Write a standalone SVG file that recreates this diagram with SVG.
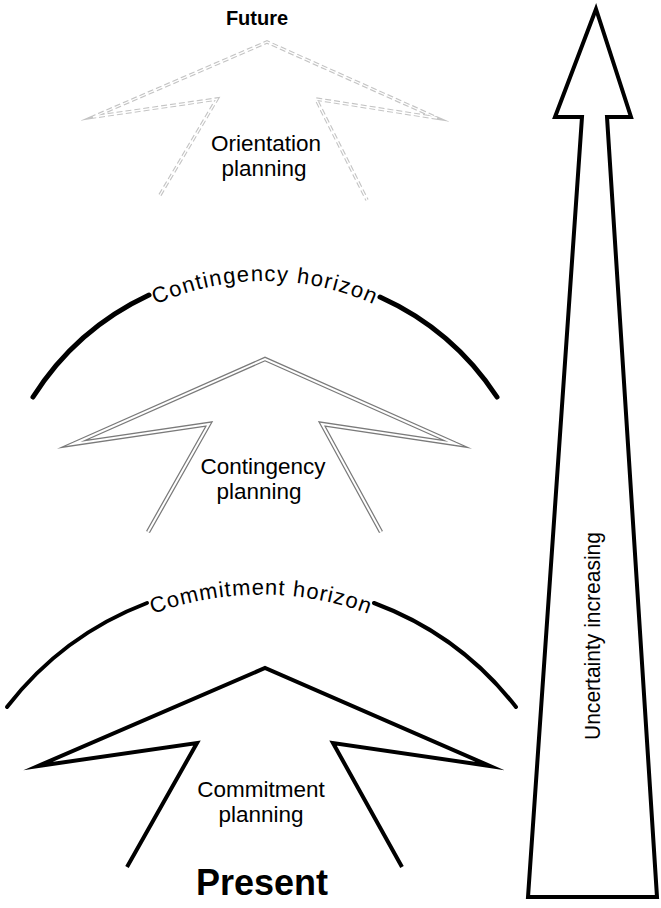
<svg xmlns="http://www.w3.org/2000/svg" width="661" height="908" viewBox="0 0 661 908">
<style>
text{font-family:"Liberation Sans",Arial,sans-serif;fill:#000}
.lbl{font-size:22.5px;text-anchor:middle}
.big{font-weight:bold;text-anchor:middle}
.hz{font-size:22px}
.arc{fill:none;stroke:#000;stroke-linecap:round}
.cm{fill:none;stroke:#000;stroke-width:4;stroke-linejoin:miter;stroke-miterlimit:10}
.ctO{fill:none;stroke:#7a7a7a;stroke-width:4.5;stroke-linejoin:miter;stroke-miterlimit:10}
.ctI{fill:none;stroke:#fff;stroke-width:2;stroke-linejoin:miter;stroke-miterlimit:10}
.orO{fill:none;stroke:#c4c4c4;stroke-width:3.5;stroke-dasharray:6 3;stroke-linejoin:miter;stroke-miterlimit:10}
.orI{fill:none;stroke:#fff;stroke-width:1.3}
</style>
<defs>
<path id="pCont" d="M 1 545 A 264 264 0 0 1 529 545"/>
<path id="pComm" d="M -49 904.5 A 310 310 0 0 1 571 904.5"/>
</defs>

<g id="future"><text class="big" x="257" y="25" font-size="20">Future</text></g>

<g id="orientation-planning">
<polyline class="orO" points="160,195 217,99 93,117 267,42 437,118 316,99 367,200"/>
<polyline class="orI" points="160,195 217,99 93,117 267,42 437,118 316,99 367,200"/>
<text class="lbl" x="266" y="151" font-size="23.5">Orientation</text>
<text class="lbl" x="264" y="176" font-size="23.5">planning</text>
</g>

<g id="contingency-horizon">
<path class="arc" stroke-width="5" d="M 33 397 A 275 275 0 0 1 149 295"/>
<path class="arc" stroke-width="5" d="M 380 297 A 275 275 0 0 1 497 397"/>
<text class="hz" letter-spacing="1.3"><textPath href="#pCont" startOffset="50%" text-anchor="middle">Contingency horizon</textPath></text>
</g>

<g id="contingency-planning">
<polyline class="ctO" points="148,532 209,424 73,444 265,359 456,444 322,424 381,532"/>
<polyline class="ctI" points="148,532 209,424 73,444 265,359 456,444 322,424 381,532"/>
<text class="lbl" x="263" y="474">Contingency</text>
<text class="lbl" x="259" y="499">planning</text>
</g>

<g id="commitment-horizon">
<path class="arc" stroke-width="4" d="M 7 707 A 322 322 0 0 1 147 603"/>
<path class="arc" stroke-width="4" d="M 374 603 A 322 322 0 0 1 516 707"/>
<text class="hz" letter-spacing="1"><textPath href="#pComm" startOffset="50%" text-anchor="middle">Commitment horizon</textPath></text>
</g>

<g id="commitment-planning">
<polyline class="cm" points="127,867 197,743 38,766 265,668 490,766 333,743 402,867"/>
<text class="lbl" x="261" y="797">Commitment</text>
<text class="lbl" x="261" y="822">planning</text>
</g>

<g id="present"><text class="big" x="262" y="895" font-size="36">Present</text></g>

<g id="uncertainty-arrow">
<polygon points="596,9 631,117 607,117 657,897 528,897 582,117 555,117" fill="#fff" stroke="#000" stroke-width="4" stroke-linejoin="miter"/>
<text transform="translate(600,636) rotate(-90)" x="0" y="0" font-size="22" text-anchor="middle" textLength="208" lengthAdjust="spacingAndGlyphs">Uncertainty increasing</text>
</g>
</svg>
